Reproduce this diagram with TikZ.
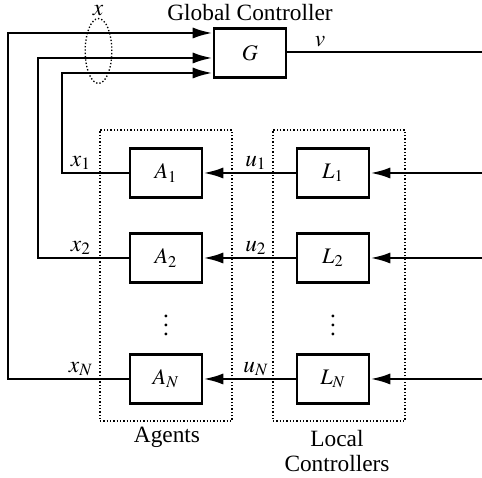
\documentclass[tikz,border=0pt]{standalone}
\usepackage{mathptmx}
\usepackage{fontspec}
\setmainfont{Liberation Serif}
\usepackage{tikz}
\usetikzlibrary{arrows.meta}

\begin{document}
\begin{tikzpicture}[x=0.45pt,y=-0.45pt,
    blk/.style={draw, line width=1.2pt, minimum width=32.4pt, minimum height=22pt, inner sep=0pt},
    grp/.style={draw, line width=0.6pt, dash pattern=on 0.6pt off 0.9pt, minimum width=59.4pt, minimum height=131pt, inner sep=0pt},
    sig/.style={line width=1.2pt},
    arr/.style={sig, -{Latex[length=9pt,width=5pt]}},
    lbl/.style={inner sep=0pt, font=\fontsize{10.5}{11}\selectfont}]
    \useasboundingbox (0,0) rectangle (482,478);
    % global controller
    \node[blk] at(250,53)(G){$G$};
    \node[lbl] at(250,13)(gc){Global Controller};
    \coordinate (gy1) at (0,33);
    \coordinate (gy2) at (0,58);
    \coordinate (gy3) at (0,73);
    \coordinate (vend) at (482,52);
    \draw[sig] (G.east |- vend) -- (vend);
    \node[lbl] at(320,42)(v){$v$};
    %
    % agents and local controllers
    \node[grp] at(166,275.5)(agents){};
    \node[grp] at(339,275.5)(locals){};
    \node[blk] at(166,173)(A1){$A_1$};
    \node[blk] at(166,258)(A2){$A_2$};
    \node[blk] at(166,379)(AN){$A_N$};
    \node[blk] at(333,173)(L1){$L_1$};
    \node[blk] at(333,258)(L2){$L_2$};
    \node[blk] at(333,379)(LN){$L_N$};
    \node[lbl] at(166,319)(Ad){$\vdots$};
    \node[lbl] at(333,319)(Ld){$\vdots$};
    \node[lbl] at(167,437)(agl){Agents};
    \node[lbl, align=center] at(337,451)(lcl){Local\\Controllers};
    %
    % inputs from the right
    \coordinate (r1) at (482,173);
    \coordinate (r2) at (482,258);
    \coordinate (rN) at (482,379);
    \draw[arr] (r1) -- (L1);
    \draw[arr] (r2) -- (L2);
    \draw[arr] (rN) -- (LN);
    \draw[arr] (L1) -- (A1);
    \draw[arr] (L2) -- (A2);
    \draw[arr] (LN) -- (AN);
    \node[lbl] at(256,163)(u1){$u_1$};
    \node[lbl] at(256,248)(u2){$u_2$};
    \node[lbl] at(256,369)(uN){$u_N$};
    %
    % feedback of states to G
    \draw[arr] (A1.west) -| (62,73) -- (G.west |- gy3);
    \draw[arr] (A2.west) -| (38,58) -- (G.west |- gy2);
    \draw[arr] (AN.west) -| (8,33) -- (G.west |- gy1);
    \node[lbl] at(81,163)(x1){$x_1$};
    \node[lbl] at(81,248)(x2){$x_2$};
    \node[lbl] at(81,369)(xN){$x_N$};
    \draw[line width=0.6pt, dash pattern=on 0.6pt off 0.9pt] (98.5,51) ellipse [x radius=6pt, y radius=14.6pt];
    \node[lbl] at(98,11)(x){$x$};
\end{tikzpicture}
\end{document}
